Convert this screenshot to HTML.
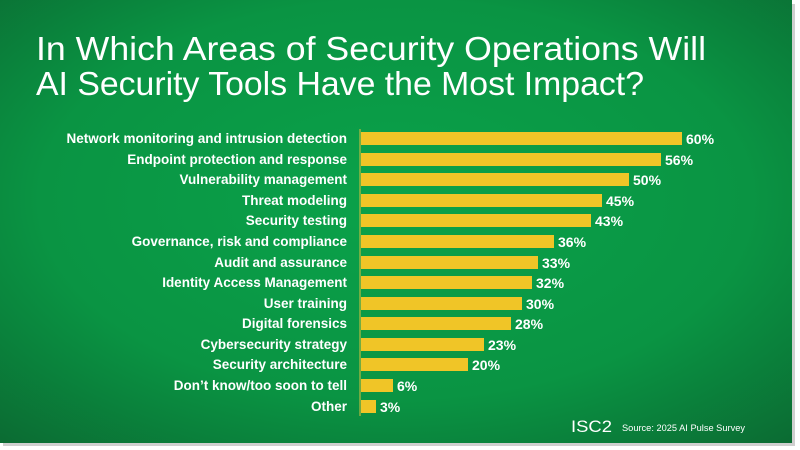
<!DOCTYPE html>
<html><head><meta charset="utf-8"><style>
html,body{margin:0;padding:0;background:#fff;width:800px;height:450px;overflow:hidden}
</style></head><body>
<svg width="800" height="450" xmlns="http://www.w3.org/2000/svg" font-family="Liberation Sans, sans-serif">
<defs>
<radialGradient id="bg" cx="0.5" cy="0.45" r="0.75">
<stop offset="0" stop-color="#0aa24a"/>
<stop offset="0.6" stop-color="#0a9443"/>
<stop offset="1" stop-color="#0b6a32"/>
</radialGradient>
</defs>
<rect x="0" y="0" width="792" height="443" fill="url(#bg)"/>
<rect x="792" y="4" width="3" height="441" fill="#cfcfcf"/>
<rect x="3" y="443" width="792" height="3" fill="#cfcfcf"/>
<g fill="#fff">
<text x="36" y="60" font-size="33" textLength="670" lengthAdjust="spacingAndGlyphs">In Which Areas of Security Operations Will</text>
<text x="36" y="95" font-size="33" textLength="608" lengthAdjust="spacingAndGlyphs">AI Security Tools Have the Most Impact?</text>
</g>
<line x1="360" y1="129" x2="360" y2="416" stroke="#d8c040" stroke-width="1"/>
<text x="571" y="432" font-size="17" fill="#fff" textLength="41" lengthAdjust="spacingAndGlyphs">ISC2</text>
<text x="622" y="431" font-size="9" fill="#fff" textLength="123" lengthAdjust="spacingAndGlyphs">Source: 2025 AI Pulse Survey</text>
<g font-size="13.5" font-weight="bold" fill="#fff">
<rect x="361" y="132" width="321" height="13" fill="#f0c527"/><text x="347" y="143" text-anchor="end">Network monitoring and intrusion detection</text><text x="686" y="144" font-size="14">60%</text>
<rect x="361" y="153" width="300" height="13" fill="#f0c527"/><text x="347" y="164" text-anchor="end">Endpoint protection and response</text><text x="665" y="165" font-size="14">56%</text>
<rect x="361" y="173" width="268" height="13" fill="#f0c527"/><text x="347" y="184" text-anchor="end">Vulnerability management</text><text x="633" y="185" font-size="14">50%</text>
<rect x="361" y="194" width="241" height="13" fill="#f0c527"/><text x="347" y="205" text-anchor="end">Threat modeling</text><text x="606" y="206" font-size="14">45%</text>
<rect x="361" y="214" width="230" height="13" fill="#f0c527"/><text x="347" y="225" text-anchor="end">Security testing</text><text x="595" y="226" font-size="14">43%</text>
<rect x="361" y="235" width="193" height="13" fill="#f0c527"/><text x="347" y="246" text-anchor="end">Governance, risk and compliance</text><text x="558" y="247" font-size="14">36%</text>
<rect x="361" y="256" width="177" height="13" fill="#f0c527"/><text x="347" y="267" text-anchor="end">Audit and assurance</text><text x="542" y="268" font-size="14">33%</text>
<rect x="361" y="276" width="171" height="13" fill="#f0c527"/><text x="347" y="287" text-anchor="end">Identity Access Management</text><text x="536" y="288" font-size="14">32%</text>
<rect x="361" y="297" width="161" height="13" fill="#f0c527"/><text x="347" y="308" text-anchor="end">User training</text><text x="526" y="309" font-size="14">30%</text>
<rect x="361" y="317" width="150" height="13" fill="#f0c527"/><text x="347" y="328" text-anchor="end">Digital forensics</text><text x="515" y="329" font-size="14">28%</text>
<rect x="361" y="338" width="123" height="13" fill="#f0c527"/><text x="347" y="349" text-anchor="end">Cybersecurity strategy</text><text x="488" y="350" font-size="14">23%</text>
<rect x="361" y="358" width="107" height="13" fill="#f0c527"/><text x="347" y="369" text-anchor="end">Security architecture</text><text x="472" y="370" font-size="14">20%</text>
<rect x="361" y="379" width="32" height="13" fill="#f0c527"/><text x="347" y="390" text-anchor="end">Don’t know/too soon to tell</text><text x="397" y="391" font-size="14">6%</text>
<rect x="361" y="400" width="15" height="13" fill="#f0c527"/><text x="347" y="411" text-anchor="end">Other</text><text x="380" y="412" font-size="14">3%</text>
</g>
</svg>
</body></html>
